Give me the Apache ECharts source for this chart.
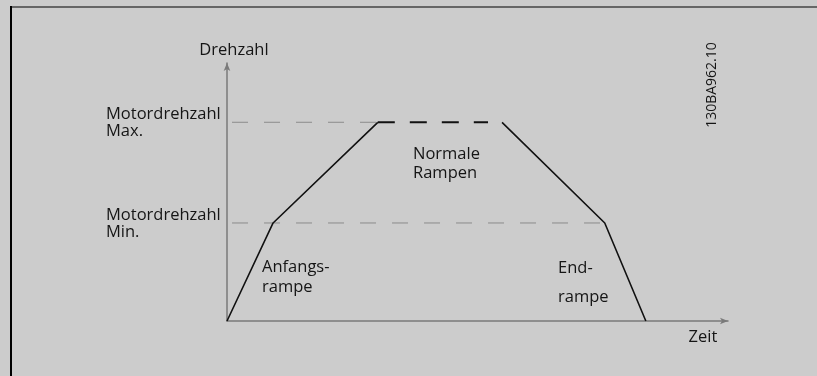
<!DOCTYPE html>
<html>
<head>
<meta charset="utf-8">
<script src="https://cdn.jsdelivr.net/npm/echarts@6/dist/echarts.min.js"></script>
<style>
html, body { margin: 0; padding: 0; background: #cccccc; }
#chart { width: 817px; height: 376px; }
</style>
</head>
<body>
<div id="chart"></div>
<script>
// speed levels (y, 0..100) and time points (x, 0..100)
const speedMin = 38;
const speedMax = 77;
const rampUpTime = [0, 9.2, 30.1];
const rampUpSpeed = [0, 38, 77];
const plateauTime = [30.1, 52.1];
const rampDownTime = [54.9, 75.4, 83.6];
const rampDownSpeed = [77, 38, 0];
const refLineStart = 1;

const axisNames = ['Zeit', 'Drehzahl'];
const levelLabels = ['Motordrehzahl\nMax.', 'Motordrehzahl\nMin.'];
const rampLabels = ['Anfangs-\nrampe', 'Normale\nRampen', 'End-\nrampe'];
const docId = '130BA962.10';

const FONT = '"Open Sans", sans-serif';

const chart = echarts.init(document.getElementById('chart'));

const profile = rampUpTime.map((t, i) => [t, rampUpSpeed[i]])
    .concat([['-', '-']])
    .concat(rampDownTime.map((t, i) => [t, rampDownSpeed[i]]));

const option = {
    backgroundColor: '#cccccc',
    animation: false,
    grid: {
        left: 227,
        right: 89,
        top: 63,
        bottom: 55
    },
    xAxis: {
        type: 'value',
        min: 0,
        max: 100,
        axisLine: {
            show: true,
            symbol: ['none', 'arrow'],
            symbolSize: [5, 8],
            lineStyle: { color: '#7a7a7a', width: 1.5 }
        },
        axisTick: { show: false },
        axisLabel: { show: false },
        splitLine: { show: false }
    },
    yAxis: {
        type: 'value',
        min: 0,
        max: 100,
        axisLine: {
            show: true,
            symbol: ['none', 'arrow'],
            symbolSize: [5, 8],
            lineStyle: { color: '#7a7a7a', width: 1.5 }
        },
        axisTick: { show: false },
        axisLabel: { show: false },
        splitLine: { show: false }
    },
    series: [
        {
            type: 'line',
            data: [[refLineStart, speedMax], [rampUpTime[2], speedMax]],
            symbol: 'none',
            lineStyle: { color: '#9a9a9a', width: 1.3, type: [16, 16] },
            z: 1
        },
        {
            type: 'line',
            data: [[refLineStart, speedMin], [rampDownTime[1], speedMin]],
            symbol: 'none',
            lineStyle: { color: '#9a9a9a', width: 1.3, type: [16, 16] },
            z: 1
        },
        {
            type: 'line',
            data: plateauTime.map(t => [t, speedMax]),
            symbol: 'none',
            lineStyle: { color: '#111', width: 2, type: [17, 15] },
            z: 3
        },
        {
            type: 'line',
            data: profile,
            connectNulls: false,
            symbol: 'none',
            lineStyle: { color: '#111', width: 1.6 },
            z: 3
        }
    ]
};
chart.setOption(option);

const txt = (text, x, y, extra) => ({
    type: 'text',
    x: x,
    y: y,
    style: Object.assign({
        text: text,
        font: '16.5px ' + FONT,
        fill: '#151515',
        lineHeight: 17
    }, extra || {})
});

const pMax = chart.convertToPixel({ gridIndex: 0 }, [0, speedMax]);
const pMin = chart.convertToPixel({ gridIndex: 0 }, [0, speedMin]);

chart.setOption({
    graphic: [
        { type: 'line', shape: { x1: 11, y1: 7, x2: 817, y2: 7 }, style: { stroke: '#666', lineWidth: 2 } },
        { type: 'line', shape: { x1: 11, y1: 6, x2: 11, y2: 376 }, style: { stroke: '#000', lineWidth: 2 } },
        txt(axisNames[1], 234, 50, { align: 'center', verticalAlign: 'middle' }),
        txt(axisNames[0], 703, 337, { align: 'center', verticalAlign: 'middle' }),
        txt(levelLabels[0], 106, pMax[1] - 17, { verticalAlign: 'top' }),
        txt(levelLabels[1], 106, pMin[1] - 16, { verticalAlign: 'top' }),
        txt(rampLabels[0], 262, 257, { verticalAlign: 'top', lineHeight: 20 }),
        txt(rampLabels[1], 413, 145, { verticalAlign: 'top', lineHeight: 19 }),
        txt(rampLabels[2], 558, 254, { verticalAlign: 'top', lineHeight: 29 }),
        {
            type: 'text',
            x: 712,
            y: 85,
            rotation: Math.PI / 2,
            style: {
                text: docId,
                font: '14px ' + FONT,
                fill: '#151515',
                align: 'center',
                verticalAlign: 'middle'
            }
        }
    ]
});
</script>
</body>
</html>
